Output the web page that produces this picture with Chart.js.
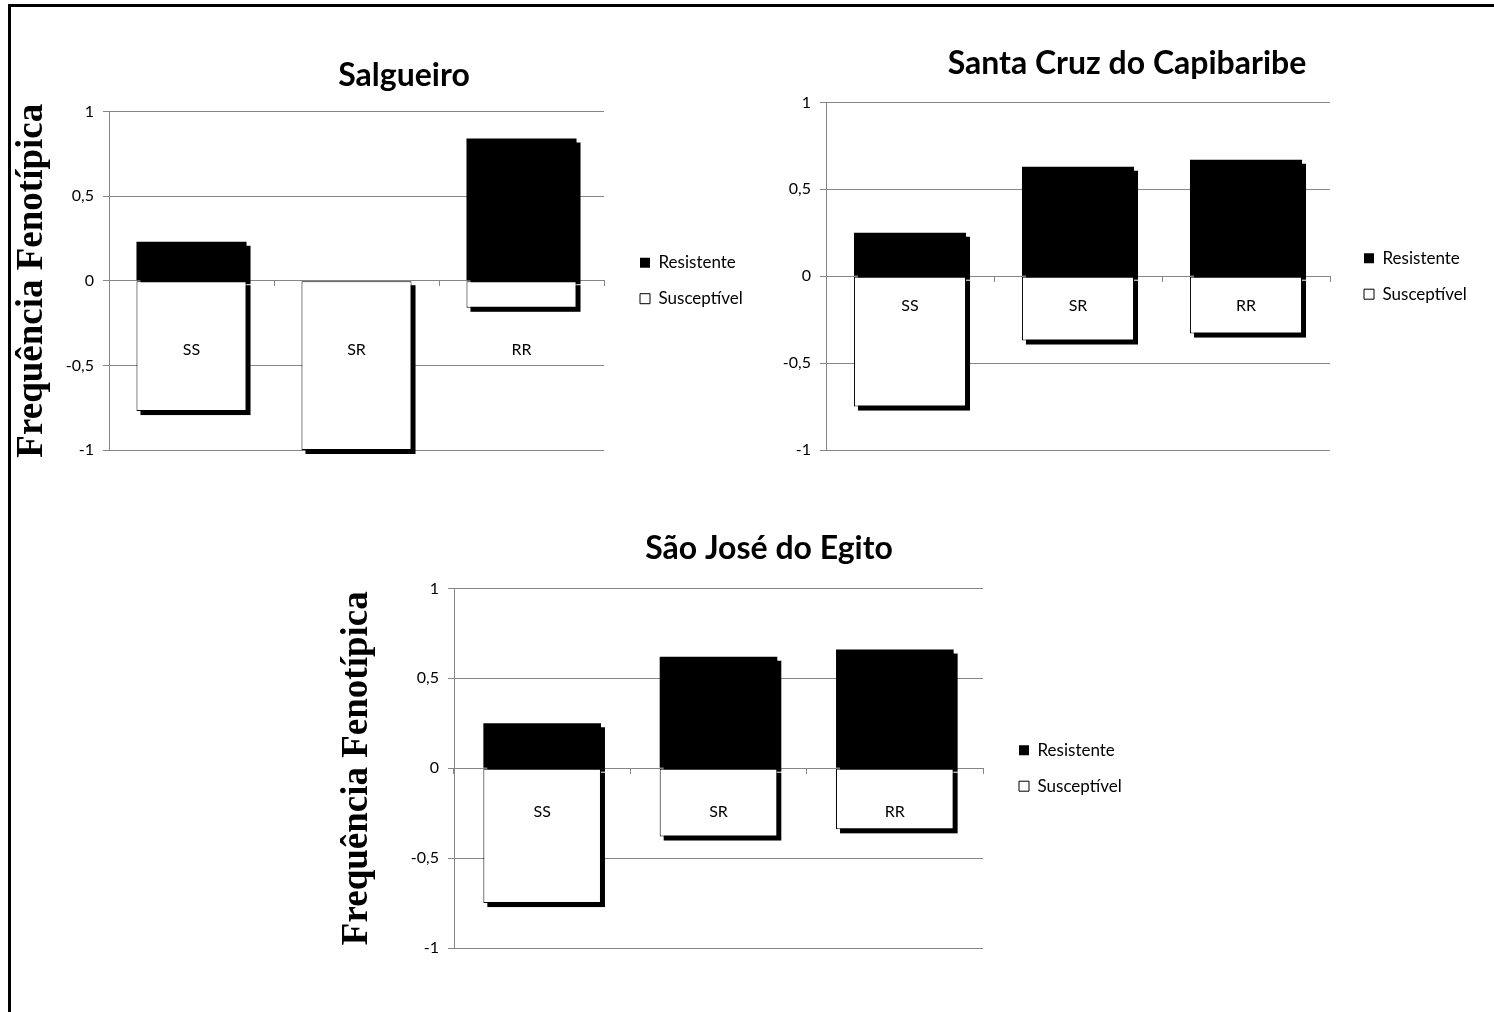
<!DOCTYPE html>
<html>
<head>
<meta charset="utf-8">
<script src="https://cdn.jsdelivr.net/npm/chart.js"></script>
<style>
  html, body { margin: 0; padding: 0; background: #fff; }
  body { width: 1494px; height: 1012px; position: relative; overflow: hidden; }
  .frame { position: absolute; left: 8px; top: 4px; width: 1500px; height: 1020px;
           border-top: 3px solid #000; border-left: 3px solid #000; }
  .box { position: absolute; }
</style>
</head>
<body>
<div class="frame"></div>
<div class="box" style="left:12px; top:8px; width:784px; height:462px;"><canvas id="salgueiro"></canvas></div>
<div class="box" style="left:760px; top:8px; width:734px; height:462px;"><canvas id="santaCruz"></canvas></div>
<div class="box" style="left:330px; top:500px; width:878px; height:468px;"><canvas id="saoJose"></canvas></div>

<script>
// genotype classes on the x axis
const genotypes = ['SS', 'SR', 'RR'];

// phenotypic frequency (resistant up, susceptible down)
const salgueiroResistente = [0.23, 0, 0.84];
const salgueiroSusceptivel = [-0.77, -1, -0.16];

const santaCruzResistente = [0.25, 0.63, 0.67];
const santaCruzSusceptivel = [-0.75, -0.37, -0.33];

const saoJoseResistente = [0.25, 0.62, 0.66];
const saoJoseSusceptivel = [-0.75, -0.38, -0.34];

const yMin = -1, yMax = 1, yStep = 0.5;

const FONT = 'Lato, "Open Sans", sans-serif';
const GRID = '#868686';
const SHADOW = 4;

// black drop shadow behind every bar, taken from the bar elements themselves
const barShadow = {
  id: 'barShadow',
  beforeDatasetsDraw(chart) {
    const ctx = chart.ctx;
    ctx.save();
    ctx.fillStyle = '#000';
    chart.getSortedVisibleDatasetMetas().forEach(meta => {
      meta.data.forEach(bar => {
        const { x, y, base, width } = bar.getProps(['x', 'y', 'base', 'width'], true);
        const top = Math.min(y, base);
        const h = Math.abs(base - y);
        if (h > 0.5) ctx.fillRect(x - width / 2 + SHADOW, top + SHADOW, width, h);
      });
    });
    ctx.restore();
  }
};

// fixed legend width + gap to the plot area
const legendSpot = {
  id: 'legendSpot',
  beforeLayout(chart, args, opts) {
    const lg = chart.legend;
    if (lg && !lg._fixed) {
      const fit = lg.fit.bind(lg);
      lg.fit = function () { fit(); this.width = opts.width; };
      lg._fixed = true;
    }
  },
  afterLayout(chart, args, opts) {
    const lg = chart.legend;
    lg.left += opts.gap;
    lg.right += opts.gap;
  }
};

function makeChart(id, title, resistente, susceptivel, cfg) {
  new Chart(document.getElementById(id), {
    type: 'bar',
    data: {
      labels: genotypes,
      datasets: [
        {
          label: 'Susceptível',
          data: susceptivel,
          backgroundColor: '#fff',
          borderColor: '#000',
          borderWidth: 1,
          borderSkipped: false
        },
        {
          label: 'Resistente',
          data: resistente,
          backgroundColor: '#000',
          borderColor: '#000',
          borderWidth: 0
        }
      ]
    },
    options: {
      responsive: true,
      maintainAspectRatio: false,
      animation: false,
      layout: { padding: { left: 0, top: 0, right: 0, bottom: 20 } },
      datasets: { bar: { categoryPercentage: 1, barPercentage: 0.667 } },
      plugins: {
        title: {
          display: true,
          text: title,
          color: '#000',
          font: { family: FONT, size: 32, weight: 'bold', lineHeight: 1.2 },
          padding: { top: cfg.titleTop, bottom: cfg.titleBottom }
        },
        legend: {
          position: 'right',
          fullSize: false,
          reverse: true,
          labels: {
            color: '#000',
            font: { family: FONT, size: 17 },
            boxWidth: 10,
            boxHeight: 10,
            padding: 19
          }
        },
        legendSpot: { gap: cfg.legendGap, width: cfg.legendWidth },
        tooltip: { enabled: false }
      },
      scales: {
        x: {
          stacked: true,
          position: { y: 0 },
          grid: { drawOnChartArea: false, color: GRID, tickLength: 5, offset: true },
          border: { color: GRID },
          ticks: { z: 1, color: '#000', font: { family: FONT, size: 16 }, padding: cfg.labelPad }
        },
        y: {
          stacked: true,
          min: yMin,
          max: yMax,
          afterFit(scale) { scale.width = cfg.yWidth; },
          grid: { color: GRID, tickLength: 6 },
          border: { color: GRID },
          ticks: {
            stepSize: yStep,
            color: '#000',
            padding: 9,
            font: { family: FONT, size: 16 },
            callback: v => String(v).replace('.', ',')
          },
          title: {
            display: cfg.yTitle,
            text: 'Frequência Fenotípica',
            color: '#000',
            font: { family: '"Liberation Serif", "Times New Roman", serif', size: 37, weight: 'bold', lineHeight: 1.1 },
            padding: { top: cfg.yTitlePad, bottom: 0 }
          }
        }
      }
    },
    plugins: [barShadow, legendSpot]
  });
}

makeChart('salgueiro', 'Salgueiro', salgueiroResistente, salgueiroSusceptivel,
  { legendWidth: 192, titleTop: 48, titleBottom: 17, yWidth: 97, yTitle: true, yTitlePad: 0,
    legendGap: 17, labelPad: 55 });

makeChart('santaCruz', 'Santa Cruz do Capibaribe', santaCruzResistente, santaCruzSusceptivel,
  { legendWidth: 164, titleTop: 36, titleBottom: 20, yWidth: 66, yTitle: false, yTitlePad: 0,
    legendGap: 15, labelPad: 15 });

makeChart('saoJose', 'São José do Egito', saoJoseResistente, saoJoseSusceptivel,
  { legendWidth: 225, titleTop: 29, titleBottom: 21, yWidth: 124, yTitle: true, yTitlePad: 7,
    legendGap: 17, labelPad: 29 });
</script>
</body>
</html>
